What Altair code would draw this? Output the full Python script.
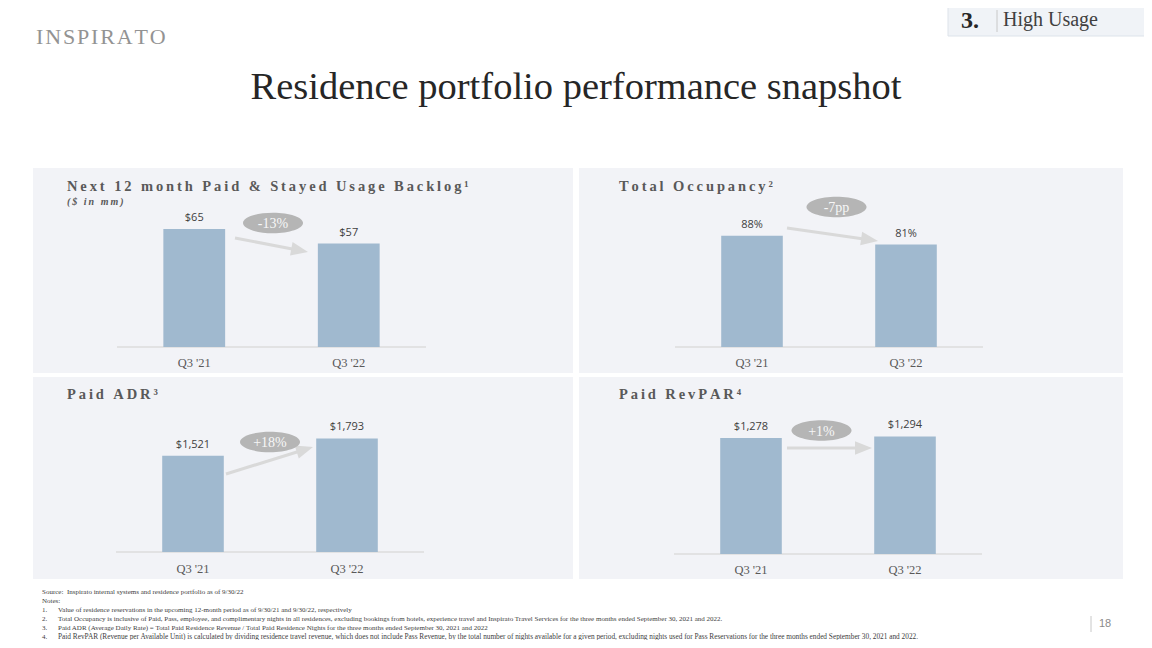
import altair as alt
import pandas as pd

# ---------------- data ----------------
periods = ["Q3 '21", "Q3 '22"]
backlog = [65, 57]          # $ in mm
occupancy = [88, 81]        # %
adr = [1521, 1793]          # $
revpar = [1278, 1294]       # $
changes = ["-13%", "-7pp", "+18%", "+1%"]

panel_titles = [
    ("Next 12 month Paid & Stayed Usage Backlog", "\u00b9"),
    ("Total Occupancy", "\u00b2"),
    ("Paid ADR", "\u00b3"),
    ("Paid RevPAR", "\u2074"),
]

footnotes = [
    "Value of residence reservations in the upcoming 12-month period as of 9/30/21 and 9/30/22, respectively",
    "Total Occupancy is inclusive of Paid, Pass, employee, and complimentary nights in all residences, excluding bookings from hotels, experience travel and Inspirato Travel Services for the three months ended September 30, 2021 and 2022.",
    "Paid ADR (Average Daily Rate) = Total Paid Residence Revenue / Total Paid Residence Nights for the three months ended September 30, 2021 and 2022",
    "Paid RevPAR (Revenue per Available Unit) is calculated by dividing residence travel revenue, which does not include Pass Revenue, by the total number of nights available for a given period, excluding nights used for Pass Reservations for the three months ended September 30, 2021 and 2022.",
]

# ---------------- styles ----------------
SERIF = "Liberation Serif"
SANS = "Open Sans"
BAR = "#a0b9cf"
PANEL = "#f2f3f7"
ARROW_C = "#d9d9d9"
BADGE_C = "#b5b5b5"
TITLE_C = "#595959"

ARROW_HEAD = "M -1 -0.8 L 1 0 L -1 0.8 Z"
ELLIPSE = "M -1 0 A 1 0.34 0 1 0 1 0 A 1 0.34 0 1 0 -1 0 Z"

one = pd.DataFrame({"k": [0]})


def P(v):
    return v - 8  # page pixel -> chart pixel


def spaced(s, sep="\u2009"):
    return sep.join(list(s))


def text(s, x, y, size, color, font=SERIF, weight="normal", align="left",
         baseline="alphabetic", style="normal"):
    return alt.Chart(one).mark_text(
        text=s, fontSize=size, color=color, font=font, fontWeight=weight,
        align=align, baseline=baseline, fontStyle=style
    ).encode(x=alt.value(P(x)), y=alt.value(P(y)))


def rect(x1, x2, y1, y2, fill, stroke=None):
    kw = dict(fill=fill)
    if stroke:
        kw.update(stroke=stroke, strokeWidth=1)
    return alt.Chart(one).mark_rect(**kw).encode(
        x=alt.value(P(x1)), x2=alt.value(P(x2)),
        y=alt.value(P(y1)), y2=alt.value(P(y2)))


def seg(x1, y1, x2, y2, color, width):
    return alt.Chart(one).mark_rule(color=color, strokeWidth=width).encode(
        x=alt.value(P(x1)), x2=alt.value(P(x2)),
        y=alt.value(P(y1)), y2=alt.value(P(y2)))


def arrow(x1, y1, x2, y2, ang):
    import math
    a = math.radians(ang)
    hx, hy = x2 - 8.5 * math.cos(a), y2 - 8.5 * math.sin(a)
    bx, by = x2 - 16 * math.cos(a), y2 - 16 * math.sin(a)
    line = seg(x1, y1, bx, by, ARROW_C, 3)
    head = alt.Chart(one).mark_point(
        shape=ARROW_HEAD, size=289, angle=ang % 360, filled=True,
        color=ARROW_C, opacity=1
    ).encode(x=alt.value(P(hx)), y=alt.value(P(hy)))
    return [line, head]


def badge(s, cx, cy):
    ell = alt.Chart(one).mark_point(
        shape=ELLIPSE, size=3600, filled=True, color=BADGE_C, opacity=1
    ).encode(x=alt.value(P(cx)), y=alt.value(P(cy)))
    t = text(s, cx, cy + 1, 14, "#f7f7f7", align="center", baseline="middle")
    return [ell, t]


def panel(values, labels, xr, base, top, domain, label_y):
    df = pd.DataFrame({"period": periods, "value": values, "label": labels})
    xs = alt.X("period:N", sort=periods, axis=None,
               scale=alt.Scale(range=[P(xr[0]), P(xr[1])],
                               paddingInner=0.6, paddingOuter=0.3))
    ys = alt.Y("value:Q", axis=None,
               scale=alt.Scale(domain=domain, range=[P(base), P(top)],
                               nice=False, zero=True))
    bars = alt.Chart(df).mark_bar(color=BAR).encode(x=xs, y=ys)
    vals = alt.Chart(df).mark_text(
        dy=-11, baseline="middle", fontSize=11, font=SANS, color="#404040"
    ).encode(x=xs, y=ys, text="label:N")
    cats = alt.Chart(df).mark_text(
        baseline="middle", fontSize=12.5, font=SERIF, color=TITLE_C
    ).encode(x=xs, y=alt.value(P(label_y)), text="period:N")
    axis_line = seg(xr[0], base, xr[1], base, "#dcdcdc", 1.5)
    return [axis_line, bars, vals, cats]


layers = []

# header
layers.append(text(spaced("INSPIRATO", "\u200a"), 36, 43.5, 22, "#939393"))
layers.append(text("Residence portfolio performance snapshot", 576, 99, 38.5, "#262626",
                   align="center"))
layers.append(rect(948, 1152, 0, 36, "#f0f3f7", "#dde3ea"))
layers.append(text("3.", 961, 28, 24, "#262626", weight="bold"))
layers.append(seg(997, 10, 997, 32, "#c8c8c8", 1))
layers.append(text("High Usage", 1003, 26, 20, "#404040"))

# panel backgrounds
layers.append(rect(33, 573, 168, 373, PANEL))
layers.append(rect(579, 1123, 168, 373, PANEL))
layers.append(rect(33, 573, 377, 579, PANEL))
layers.append(rect(579, 1123, 377, 579, PANEL))

# panel titles
tpos = [(67, 191), (619, 191), (67, 399), (619, 399)]
for (t, sup), (x, y) in zip(panel_titles, tpos):
    layers.append(text(spaced(t) + "\u2009" + sup, x, y, 14.5, TITLE_C, weight="bold"))
layers.append(text(spaced("($ in mm)"), 67, 205, 10, TITLE_C, style="italic", weight="bold"))

# panels
layers += panel(backlog, [f"${v:,}" for v in backlog], (117, 426), 347, 220, [0, 70], 363)
layers += panel(occupancy, [f"{v}%" for v in occupancy], (675, 983), 347, 220.5, [0, 100], 363)
layers += panel(adr, [f"${v:,}" for v in adr], (116, 424), 552, 425.3, [0, 2000], 569)
layers += panel(revpar, [f"${v:,}" for v in revpar], (674, 982), 554, 426.8, [0, 1400], 570)

# arrows and change badges
layers += arrow(235, 238, 308, 252, 10.9)
layers += arrow(787, 228, 878, 241, 8.1)
layers += arrow(226, 474, 313, 447, -17.2)
layers += arrow(787, 448, 872, 448, 0)
layers += badge(changes[0], 273, 223)
layers += badge(changes[1], 836.5, 207)
layers += badge(changes[2], 270, 442)
layers += badge(changes[3], 821.5, 430.5)

# footnotes
FC = "#404040"
layers.append(text("Source:", 42, 594, 7.0, FC))
layers.append(text("Inspirato internal systems and residence portfolio as of 9/30/22", 67, 594, 7.0, FC))
layers.append(text("Notes:", 42, 602.5, 7.0, FC))
for i, (note, y, fs) in enumerate(zip(footnotes, [612, 621, 630, 638.5], [7.0, 7.0, 7.0, 7.3])):
    layers.append(text(f"{i + 1}.", 42, y, 7.0, FC))
    layers.append(text(note, 58, y, fs, FC))

# page number
layers.append(seg(1091, 616, 1091, 632, "#c8c8c8", 1))
layers.append(text("18", 1099, 627, 11, "#8a8a8a", font="Liberation Sans"))

chart = alt.layer(*layers).resolve_scale(x="independent", y="independent").properties(
    width=1136, height=632, padding=0,
    autosize=alt.AutoSizeParams(type="none"),
    background="white",
).configure_view(stroke=None)

chart.save("out.html", embed_options={"renderer": "svg", "actions": False})
